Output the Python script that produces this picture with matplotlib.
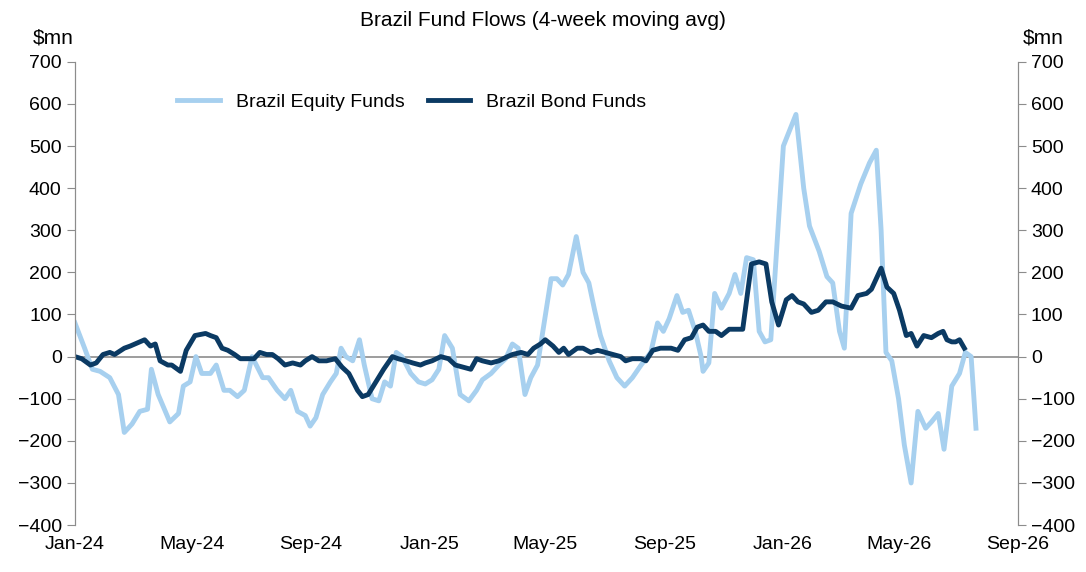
import numpy as np
import pandas as pd
import matplotlib
matplotlib.use("Agg")
import matplotlib.pyplot as plt
import matplotlib.dates as mdates

start = pd.Timestamp("2024-01-01")

# days since 2024-01-01, values in $mn
equity_days = [0, 10, 18, 26, 36, 45, 51, 59, 67, 75, 79, 86, 98, 107, 112, 119, 125, 131, 140, 146,
               154, 160, 168, 175, 183, 194, 200, 209, 217, 223, 230, 238, 243, 249, 256, 264, 270, 275,
               280, 287, 294, 299, 307, 314, 320, 326, 332, 338, 347, 355, 362, 369, 376, 382, 390, 398,
               407, 415, 421, 430, 438, 445, 452, 458, 465, 471, 478, 492, 498, 504, 510, 518, 525, 531,
               537, 543, 552, 560, 568, 576, 585, 595, 602, 608, 614, 622, 628, 634, 641, 647, 649, 655,
               661, 668, 676, 682, 688, 694, 701, 707, 713, 719, 732, 745, 753, 759, 769, 777, 783, 790,
               795, 802, 812, 821, 828, 833, 838, 844, 851, 857, 864, 871, 879, 885, 892, 898, 906, 914,
               920, 926, 931]
equity_vals = [80, 20, -30, -35, -50, -90, -180, -160, -130, -125, -30, -90, -155, -135, -70, -60, 0, -40, -40, -20,
               -80, -80, -95, -80, 0, -50, -50, -80, -100, -80, -130, -140, -165, -145, -90, -60, -40, 20,
               0, -10, 40, -20, -100, -105, -60, -70, 10, 0, -40, -60, -65, -55, -30, 50, 20, -90,
               -105, -80, -55, -40, -20, -5, 30, 20, -90, -50, -20, 185, 185, 170, 195, 285, 200, 175,
               110, 50, -10, -50, -70, -50, -20, 10, 80, 60, 90, 145, 105, 110, 60, 0, -35, -15,
               150, 115, 150, 195, 150, 235, 230, 60, 35, 40, 500, 575, 400, 310, 250, 190, 175, 60,
               20, 340, 410, 460, 490, 300, 10, -10, -100, -210, -300, -130, -170, -155, -135, -220, -70, -40,
               10, 0, -170]

bond_days = [0, 7, 16, 22, 29, 36, 41, 51, 57, 67, 72, 78, 83, 88, 96, 100, 109, 115, 124, 135, 140, 146,
             152, 158, 165, 171, 177, 185, 191, 198, 204, 210, 217, 225, 233, 238, 245, 252, 260, 269,
             276, 283, 292, 297, 303, 311, 319, 328, 334, 342, 349, 357, 362, 369, 378, 386, 393, 401,
             409, 415, 421, 430, 438, 447, 452, 461, 468, 474, 481, 486, 494, 500, 505, 510, 519, 525,
             533, 540, 548, 556, 564, 569, 576, 585, 590, 597, 605, 616, 623, 630, 637, 643, 649, 655,
             662, 668, 676, 684, 690, 699, 707, 714, 720, 727, 735, 741, 747, 753, 761, 768, 776, 783,
             792, 802, 809, 818, 823, 830, 833, 839, 846, 852, 859, 864, 870, 877, 885, 892, 897, 901,
             906, 910, 914, 919]
bond_vals = [0, -5, -20, -15, 5, 10, 5, 20, 25, 35, 40, 25, 30, -10, -20, -20, -35, 15, 50, 55, 50, 45,
             20, 15, 5, -5, -5, -5, 10, 5, 5, -5, -20, -15, -20, -10, 0, -10, -10, -5,
             -25, -40, -80, -95, -90, -60, -30, 0, -5, -10, -15, -20, -15, -10, 0, -5, -20, -25,
             -30, -5, -10, -15, -10, 0, 5, 10, 5, 20, 30, 40, 25, 10, 20, 5, 20, 20,
             10, 15, 10, 5, 0, -10, -5, -5, -10, 15, 20, 20, 15, 40, 45, 70, 75, 60,
             60, 50, 65, 65, 65, 220, 225, 220, 130, 75, 135, 145, 130, 125, 105, 110, 130, 130,
             120, 115, 145, 150, 160, 195, 210, 165, 150, 110, 50, 55, 25, 50, 45, 55, 60, 40,
             35, 35, 40, 20]

equity_dates = start + pd.to_timedelta(equity_days, unit="D")
bond_dates = start + pd.to_timedelta(bond_days, unit="D")

plt.rcParams["font.family"] = ["Liberation Sans", "DejaVu Sans"]
plt.rcParams["font.size"] = 14

fig, ax = plt.subplots(figsize=(10.86, 5.72), dpi=100)
fig.subplots_adjust(left=0.069, right=0.937, top=0.892, bottom=0.082)

ax.plot(equity_dates, equity_vals, color="#a7d0ef", lw=3.5, label="Brazil Equity Funds")
ax.plot(bond_dates, bond_vals, color="#0b3a63", lw=3.5, label="Brazil Bond Funds")
ax.axhline(0, color="#8c8c8c", lw=1.2, zorder=0)

ax.set_ylim(-400, 700)
ax.set_yticks(np.arange(-400, 701, 100))
ax.set_xlim(pd.Timestamp("2024-01-01"), pd.Timestamp("2026-09-01"))
ax.xaxis.set_major_locator(mdates.MonthLocator(bymonth=[1, 5, 9]))
ax.xaxis.set_major_formatter(mdates.DateFormatter("%b-%y"))

ax2 = ax.twinx()
ax2.set_ylim(-400, 700)
ax2.set_yticks(np.arange(-400, 701, 100))

for a in (ax, ax2):
    for s in ("top", "bottom"):
        a.spines[s].set_visible(False)
    for s in ("left", "right"):
        a.spines[s].set_color("#8c8c8c")
    a.tick_params(axis="y", color="#8c8c8c", length=6, labelsize=14)
ax.tick_params(axis="x", length=0, labelsize=14, pad=8)

ax.text(-0.045, 1.03, "$mn", transform=ax.transAxes, ha="left", va="bottom", fontsize=15)
ax.text(1.005, 1.03, "$mn", transform=ax.transAxes, ha="left", va="bottom", fontsize=15)
fig.text(0.5, 0.965, "Brazil Fund Flows (4-week moving avg)", ha="center", va="center", fontsize=15)

ax.legend(loc="upper left", bbox_to_anchor=(0.09, 0.97), ncol=2, frameon=False,
          handlelength=2.2, columnspacing=1.2, fontsize=14)

fig.savefig("out.png", dpi=100)
